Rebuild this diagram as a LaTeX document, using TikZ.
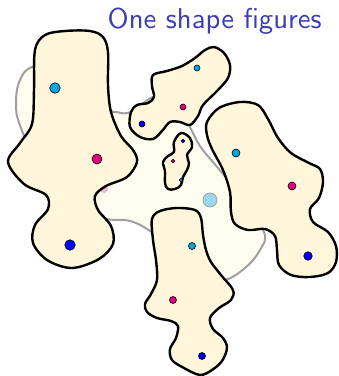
\documentclass[tikz,border=0pt]{standalone}
\usepackage{graphicx}
\definecolor{titleblue}{RGB}{60,60,180}
\definecolor{cream}{RGB}{255,246,220}
\definecolor{lightcream}{RGB}{255,252,240}
\definecolor{outlinegray}{RGB}{160,160,160}
\definecolor{dotcyan}{RGB}{0,166,226}
\definecolor{dotmagenta}{RGB}{230,0,130}
\definecolor{dotblue}{RGB}{0,0,255}
\definecolor{dotpale}{RGB}{155,215,238}
\tikzset{
  blob/.style={draw=black, fill=cream, line width=2.4pt, line join=round},
  bigblob/.style={draw=outlinegray, fill=lightcream, line width=2pt},
  dotc/.style={circle, draw=black, line width=0.6pt, inner sep=0pt, fill=dotcyan},
  dotm/.style={circle, draw=black, line width=0.6pt, inner sep=0pt, fill=dotmagenta},
  dotb/.style={circle, draw=black, line width=0.6pt, inner sep=0pt, fill=dotblue},
}
\begin{document}
\begin{tikzpicture}[x=1pt,y=-1pt]
\useasboundingbox (0,0) rectangle (339,376);
% title
\node[anchor=base west, text=titleblue, inner sep=0pt] (title) at (107.5,28)
  {\resizebox{214pt}{!}{\sffamily One shape figures}};
% big background shape
\draw[bigblob] plot[smooth cycle, tension=0.6] coordinates {
  (34,66) (20,80) (16,103) (21,128) (50,190) (100,217) (130,221) (153,233)
  (200,268) (223,280) (245,268) (260,250) (264,232) (240,195) (218,168)
  (200,146) (187,122) (170,100) (153,97) (131,112) (117,112) (108,106) (80,55)};
% faded dot behind left shape
\node[circle, fill=dotmagenta!30, inner sep=0pt, minimum size=8pt] (fade) at (104,189) {};
% pale big-shape dot
\node[circle, draw=outlinegray, line width=0.8pt, fill=dotpale, inner sep=0pt, minimum size=14pt] (pale) at (210,200) {};
% left shape
\draw[blob] plot[smooth cycle, tension=0.55] coordinates {
  (35,50) (45,35) (65,31) (90,31) (103,37) (108,52) (108,85) (111,112)
  (121,136) (133,150) (137,162) (127,177) (106,186) (95,196) (98,210)
  (111,226) (113,244) (99,259) (72,268) (47,260) (33,243) (35,225)
  (48,209) (46,195) (24,184) (8,162) (20,143) (32,124) (34,90)};
% top middle shape
\draw[blob] plot[smooth cycle, tension=0.55] coordinates {
  (153,75) (167,71) (182,66) (195,58) (205,50) (214,47) (224,53) (230,65)
  (228,78) (217,91) (203,105) (198,116) (190,125) (180,122) (170,122)
  (162,131) (153,139) (140,137) (130,127) (131,112) (137,105) (148,103)
  (154,97) (152,86)};
% small center shape
\draw[blob] plot[smooth cycle, tension=0.6] coordinates {
  (181,133) (190,138) (192,147) (187,155) (189,163) (187,170) (183,177)
  (181,185) (175,189) (168,189) (165,183) (165,171) (163,162) (168,156)
  (174,152) (174,142)};
% right shape
\draw[blob] plot[smooth cycle, tension=0.55] coordinates {
  (207,122) (219,108) (240,102) (258,105) (268,119) (278,138) (291,153)
  (309,163) (320,169) (323,182) (319,198) (310,209) (313,222) (328,232)
  (336,246) (336,262) (328,273) (310,277) (291,275) (279,265) (277,250)
  (275,236) (265,229) (248,230) (235,224) (231,212) (230,192) (223,170)
  (212,149) (207,135)};
% bottom middle shape
\draw[blob] plot[smooth cycle, tension=0.55] coordinates {
  (152,219) (160,211) (177,208) (195,210) (201,218) (203,235) (206,250)
  (211,262) (221,275) (233,290) (231,300) (219,308) (210,318) (213,329)
  (223,338) (227,348) (222,361) (212,370) (200,375) (184,368) (172,360)
  (170,349) (176,338) (178,326) (171,321) (157,318) (147,312) (145,304)
  (151,294) (157,280) (156,260) (153,240)};
% dots
\node[dotc, minimum size=10.5pt] (l1) at (55,88) {};
\node[dotm, minimum size=10pt] (l2) at (97,159) {};
\node[dotb, minimum size=10.5pt] (l3) at (70,245) {};
\node[dotc, minimum size=6pt] (t1) at (197,68) {};
\node[dotm, minimum size=6pt] (t2) at (183,107) {};
\node[dotb, minimum size=6pt] (t3) at (142,124) {};
\node[dotb, minimum size=3.6pt] (s1) at (183,141) {};
\node[dotm, minimum size=3.6pt] (s2) at (173,161) {};
\node[dotc, minimum size=3.6pt] (s3) at (181,180) {};
\node[dotc, minimum size=8pt] (r1) at (236,153) {};
\node[dotm, minimum size=8pt] (r2) at (292,186) {};
\node[dotb, minimum size=8.5pt] (r3) at (308,256) {};
\node[dotc, minimum size=7pt] (b1) at (192,246) {};
\node[dotm, minimum size=7pt] (b2) at (173,300) {};
\node[dotb, minimum size=7pt] (b3) at (202,356) {};
\end{tikzpicture}
\end{document}
